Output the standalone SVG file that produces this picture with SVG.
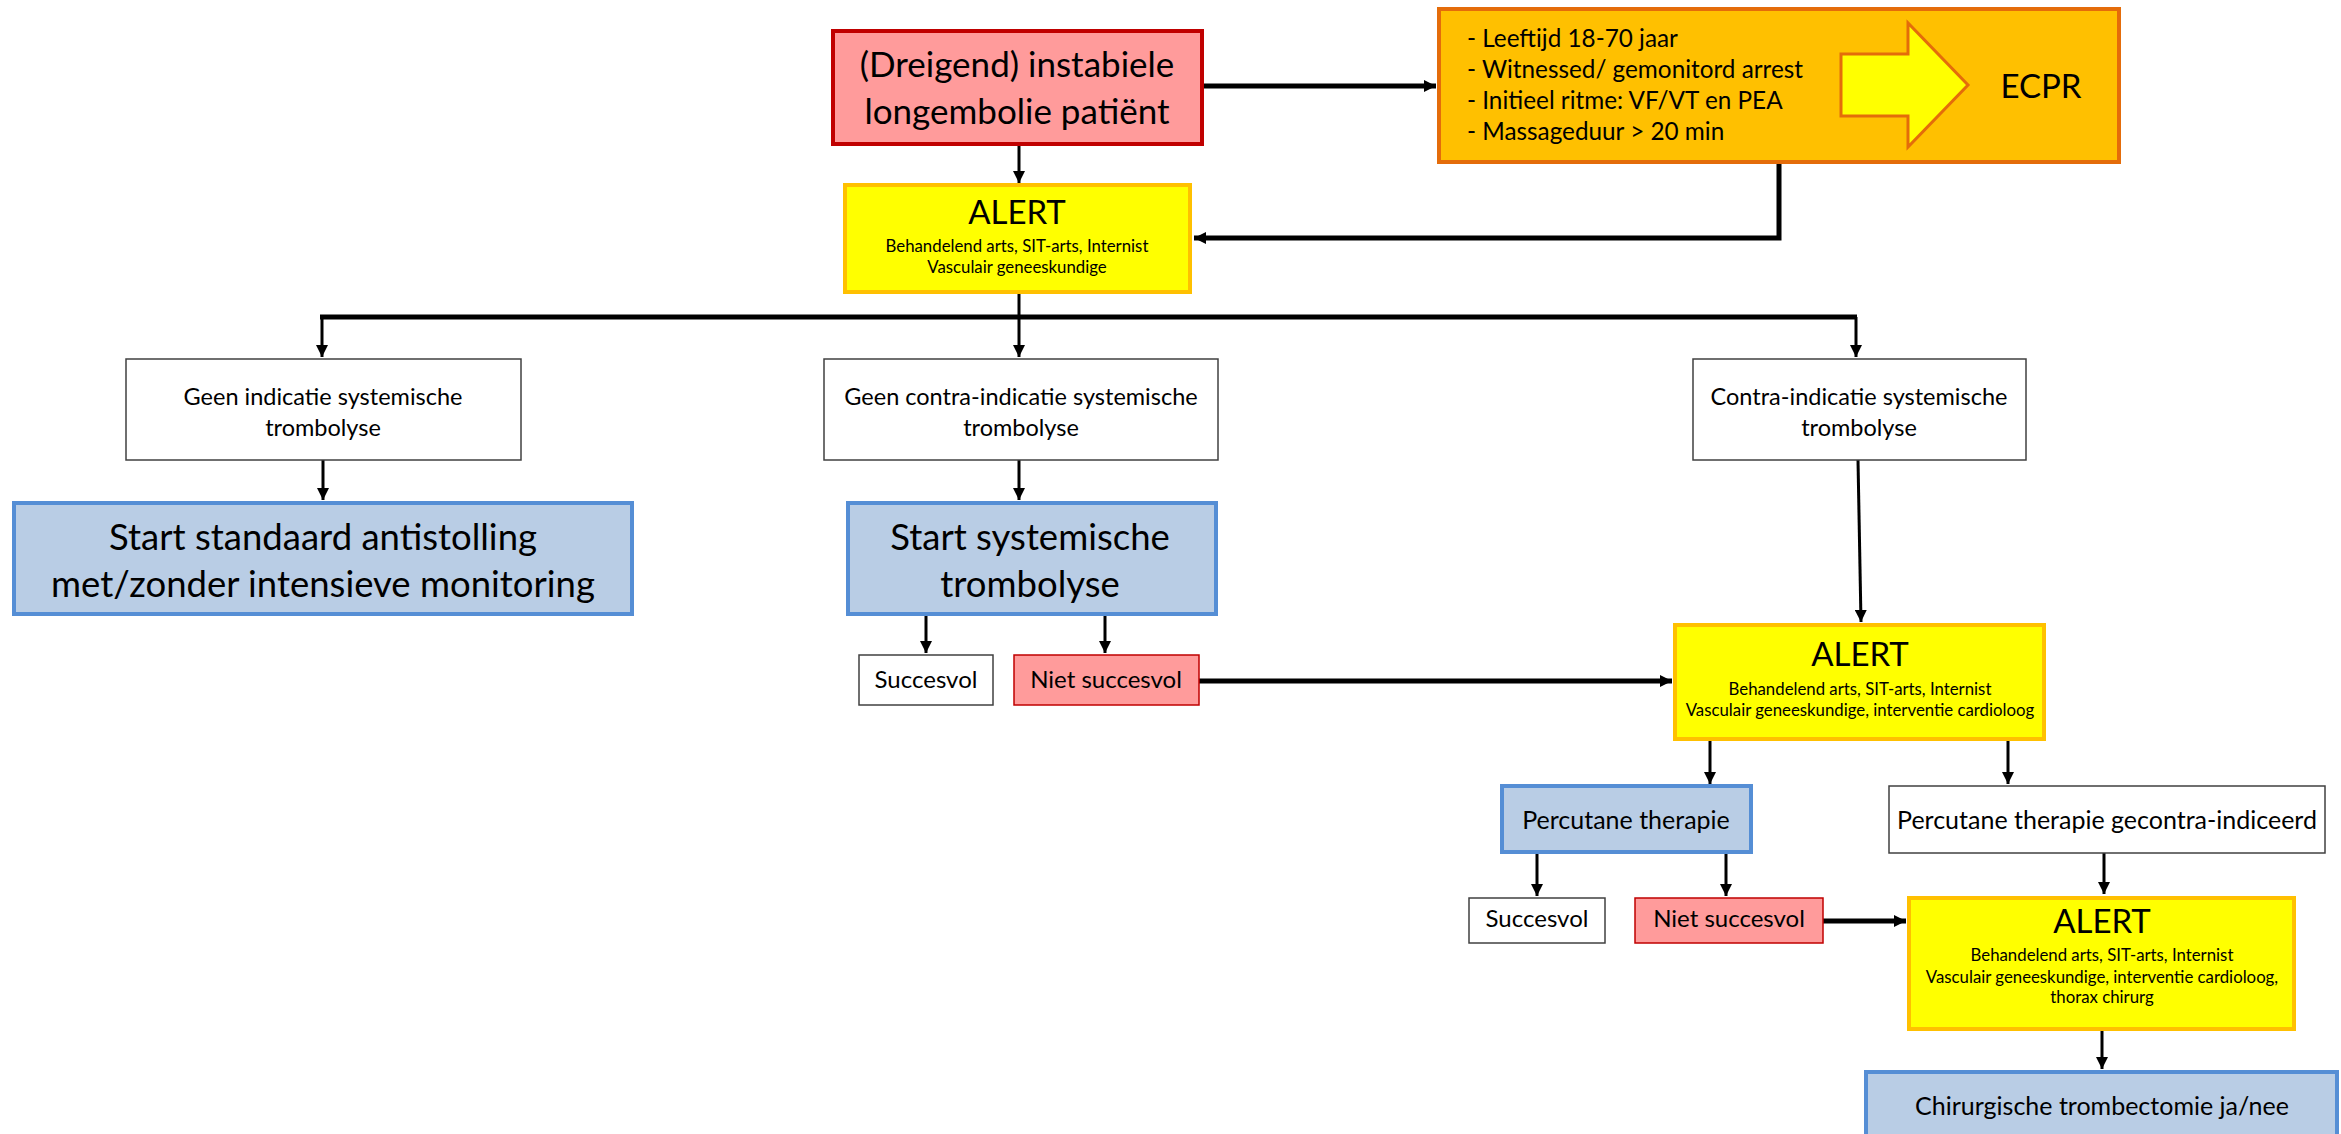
<svg xmlns="http://www.w3.org/2000/svg" width="2341" height="1134" viewBox="0 0 2341 1134">
<defs>
<marker id="ah" markerUnits="userSpaceOnUse" markerWidth="14" markerHeight="12" refX="12" refY="6" orient="auto">
<path d="M0,0 L12,6 L0,12 z" fill="#000"/>
</marker>
<style>
text{font-family:Lato,"Liberation Sans",sans-serif;fill:#000;text-anchor:middle}
.red{fill:#FF9B9B;stroke:#C00000;stroke-width:4}
.redt{fill:#FF9B9B;stroke:#C00000;stroke-width:1.5}
.orange{fill:#FFC000;stroke:#E46C0A;stroke-width:4}
.alert{fill:#FFFF00;stroke:#FFC000;stroke-width:4}
.blue{fill:#B9CDE5;stroke:#558ED5;stroke-width:4}
.white{fill:#FFFFFF;stroke:#404040;stroke-width:1.5}
.c{fill:none;stroke:#000;stroke-width:3;marker-end:url(#ah)}
.ck{fill:none;stroke:#000;stroke-width:5;marker-end:url(#ah)}
.cb{fill:none;stroke:#000;stroke-width:5}
.big{font-size:35px}
.alt{font-size:33px}
.sub{font-size:16.8px}
.mid{font-size:23.5px}
.lg{font-size:36.5px}
.sm{font-size:24px}
.md{font-size:25px}
.bul{font-size:24.3px;text-anchor:start}
</style>
</defs>

<g id="connectors">
<line class="ck" x1="1203" y1="86" x2="1436" y2="86"/>
<line class="c" x1="1019" y1="145" x2="1019" y2="183"/>
<polyline class="ck" points="1779,162 1779,238 1194,238"/>
<line class="cb" x1="320" y1="317" x2="1857" y2="317"/>
<line class="c" x1="1019" y1="293" x2="1019" y2="357"/>
<polyline class="c" points="322,317 322,357"/>
<polyline class="c" points="1856,317 1856,357"/>
<line class="c" x1="323" y1="460" x2="323" y2="500"/>
<line class="c" x1="1019" y1="460" x2="1019" y2="500"/>
<line class="c" x1="926" y1="616" x2="926" y2="653"/>
<line class="c" x1="1105" y1="616" x2="1105" y2="653"/>
<line class="ck" x1="1199" y1="681" x2="1672" y2="681"/>
<line class="c" x1="1858" y1="460" x2="1861" y2="622"/>
<line class="c" x1="1710" y1="741" x2="1710" y2="784"/>
<line class="c" x1="2008" y1="741" x2="2008" y2="784"/>
<line class="c" x1="1537" y1="854" x2="1537" y2="896"/>
<line class="c" x1="1726" y1="854" x2="1726" y2="896"/>
<line class="ck" x1="1823" y1="921" x2="1906" y2="921"/>
<line class="c" x1="2104" y1="853" x2="2104" y2="894"/>
<line class="c" x1="2102" y1="1031" x2="2102" y2="1069"/>
</g>

<g id="start">
<rect class="red" x="833" y="31" width="369" height="113"/>
<text class="big" x="1017" y="77">(Dreigend) instabiele</text>
<text class="big" x="1017" y="124">longembolie patiënt</text>
</g>

<g id="ecpr">
<rect class="orange" x="1439" y="9" width="680" height="153"/>
<text class="bul" x="1467" y="47">- Leeftijd 18-70 jaar</text>
<text class="bul" x="1467" y="78">- Witnessed/ gemonitord arrest</text>
<text class="bul" x="1467" y="109">- Initieel ritme: VF/VT en PEA</text>
<text class="bul" x="1467" y="140">- Massageduur &gt; 20 min</text>
<polygon points="1841,54 1908,54 1908,23 1968,85 1908,147 1908,116 1841,116" fill="#FFFF00" stroke="#E46C0A" stroke-width="3"/>
<text x="2041" y="98" style="font-size:33px">ECPR</text>
</g>

<g id="alert1">
<rect class="alert" x="845" y="185" width="345" height="107"/>
<text class="alt" x="1017" y="224">ALERT</text>
<text class="sub" x="1017" y="252">Behandelend arts, SIT-arts, Internist</text>
<text class="sub" x="1017" y="273">Vasculair geneeskundige</text>
</g>

<g id="geen-indicatie">
<rect class="white" x="126" y="359" width="395" height="101"/>
<text class="mid" x="323" y="405">Geen indicatie systemische</text>
<text class="mid" x="323" y="436">trombolyse</text>
</g>

<g id="geen-contra">
<rect class="white" x="824" y="359" width="394" height="101"/>
<text class="mid" x="1021" y="405">Geen contra-indicatie systemische</text>
<text class="mid" x="1021" y="436">trombolyse</text>
</g>

<g id="contra">
<rect class="white" x="1693" y="359" width="333" height="101"/>
<text class="mid" x="1859" y="405">Contra-indicatie systemische</text>
<text class="mid" x="1859" y="436">trombolyse</text>
</g>

<g id="standaard">
<rect class="blue" x="14" y="503" width="618" height="111"/>
<text class="lg" x="323" y="550">Start standaard antistolling</text>
<text class="lg" x="323" y="597">met/zonder intensieve monitoring</text>
</g>

<g id="trombolyse">
<rect class="blue" x="848" y="503" width="368" height="111"/>
<text class="lg" x="1030" y="550">Start systemische</text>
<text class="lg" x="1030" y="597">trombolyse</text>
</g>

<g id="succesvol1">
<rect class="white" x="859" y="655" width="134" height="50"/>
<text class="sm" x="926" y="688">Succesvol</text>
</g>

<g id="niet1">
<rect class="redt" x="1014" y="655" width="185" height="50"/>
<text class="sm" x="1106" y="688">Niet succesvol</text>
</g>

<g id="alert2">
<rect class="alert" x="1675" y="625" width="369" height="114"/>
<text class="alt" x="1860" y="666">ALERT</text>
<text class="sub" x="1860" y="695">Behandelend arts, SIT-arts, Internist</text>
<text class="sub" x="1860" y="716">Vasculair geneeskundige, interventie cardioloog</text>
</g>

<g id="percutaan">
<rect class="blue" x="1502" y="786" width="249" height="66"/>
<text class="md" x="1626" y="829">Percutane therapie</text>
</g>

<g id="gecontra">
<rect class="white" x="1889" y="786" width="436" height="67"/>
<text class="md" x="2107" y="829">Percutane therapie gecontra-indiceerd</text>
</g>

<g id="succesvol2">
<rect class="white" x="1469" y="898" width="136" height="45"/>
<text class="sm" x="1537" y="927">Succesvol</text>
</g>

<g id="niet2">
<rect class="redt" x="1635" y="898" width="188" height="45"/>
<text class="sm" x="1729" y="927">Niet succesvol</text>
</g>

<g id="alert3">
<rect class="alert" x="1909" y="898" width="385" height="131"/>
<text class="alt" x="2102" y="933">ALERT</text>
<text class="sub" x="2102" y="961">Behandelend arts, SIT-arts, Internist</text>
<text class="sub" x="2102" y="983">Vasculair geneeskundige, interventie cardioloog,</text>
<text class="sub" x="2102" y="1003">thorax chirurg</text>
</g>

<g id="chirurgisch">
<rect class="blue" x="1866" y="1072" width="471" height="80"/>
<text class="md" x="2102" y="1115">Chirurgische trombectomie ja/nee</text>
</g>
</svg>
